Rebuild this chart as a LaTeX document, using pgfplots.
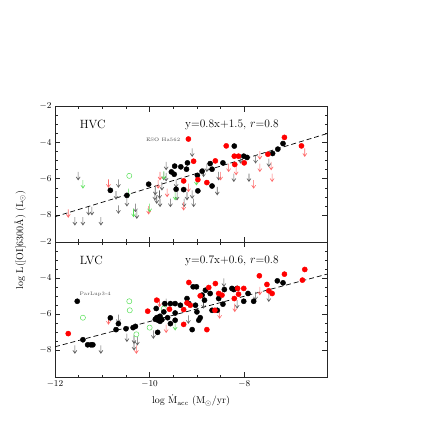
\documentclass[border=0pt]{standalone}
\usepackage{pgfplots}
\pgfplotsset{compat=1.18}
\definecolor{lgray}{RGB}{95,95,95}
\definecolor{lred}{RGB}{255,105,105}
\definecolor{lgreen}{RGB}{90,225,90}

\pgfdeclareplotmark{darr}{%
  \pgfpathmoveto{\pgfqpoint{0pt}{0pt}}%
  \pgfpathlineto{\pgfqpoint{0pt}{-8pt}}%
  \pgfpathmoveto{\pgfqpoint{-2pt}{-5pt}}%
  \pgfpathlineto{\pgfqpoint{0pt}{-8pt}}%
  \pgfpathlineto{\pgfqpoint{2pt}{-5pt}}%
  \pgfusepathqstroke}

\pgfplotsset{
  panel/.style={
    width=272bp, height=135.5bp, scale only axis,
    xmin=-12, xmax=-6.25, ymin=-9.5, ymax=-2,
    xtick={-12,-10,-8}, minor x tick num=3,
    ytick={-8,-6,-4,-2}, minor y tick num=3,
    tick align=inside, major tick length=5bp, minor tick length=2.5bp,
    axis line style={line width=0.8pt, black!85},
    tick style={black!85, line width=0.6pt},
    tick label style={font=\fontsize{9}{10}\selectfont},
  },
  blkpt/.style={only marks, mark=*, mark size=2.6pt, black},
  redpt/.style={only marks, mark=*, mark size=2.6pt, color=red, mark options={fill=red}},
  garr/.style={only marks, mark=darr, color=lgray, mark options={line width=0.6pt}},
  rarr/.style={only marks, mark=darr, color=lred, mark options={line width=0.6pt}},
  gnarr/.style={only marks, mark=darr, color=lgreen, mark options={line width=0.6pt}},
  gcirc/.style={only marks, mark=o, mark size=2.6pt, color=lgreen, mark options={line width=0.5pt}},
  fitln/.style={black, line width=0.7pt, dash pattern=on 5pt off 3pt},
}

\begin{document}
\begin{tikzpicture}
\useasboundingbox (0bp,0bp) rectangle (432bp,447bp);

% upper panel: HVC
\begin{axis}[panel, at={(55bp,205bp)}, anchor=south west, xticklabels={}]
\addplot[fitln] coordinates {(-12,-8.1) (-6.25,-3.5)};
\addplot[garr] coordinates {
 (-11.51,-5.62) (-11.58,-8.12) (-11.41,-8.12) (-11.29,-7.56) (-11.22,-7.56)
 (-11.03,-8.12) (-10.66,-6.03) (-10.71,-6.69) (-10.66,-7.47) (-10.48,-7.07)
 (-10.30,-7.38) (-10.27,-7.75) (-9.89,-6.73) (-9.85,-6.92) (-9.78,-7.10)
 (-9.79,-6.64) (-9.74,-6.18) (-9.65,-5.06) (-9.65,-5.68) (-9.56,-7.10)
 (-9.44,-6.03) (-9.27,-7.10) (-9.21,-6.73) (-9.10,-4.32) (-9.07,-7.10)
 (-9.10,-6.64) (-8.79,-5.16) (-8.57,-6.45) (-8.54,-5.62) (-8.22,-5.71)
 (-8.08,-4.69) (-7.90,-5.71) (-7.76,-4.69) (-7.48,-4.88) (-9.42,-6.73)
 (-9.88,-6.45) (-9.70,-5.62) (-8.86,-5.44)
};
\addplot[rarr] coordinates {
 (-11.72,-7.69) (-10.87,-6.03) (-10.02,-7.51) (-9.78,-5.62) (-9.63,-6.55)
 (-9.28,-7.29) (-9.18,-6.27) (-8.50,-5.62) (-8.33,-5.16) (-8.17,-5.34)
 (-7.80,-6.08) (-7.67,-4.47) (-7.67,-5.16) (-7.41,-5.71) (-7.43,-5.06)
 (-6.72,-4.32) (-9.82,-6.08)
};
\addplot[gnarr] coordinates {
 (-11.41,-6.08) (-10.45,-6.55) (-10.34,-7.66) (-10.00,-7.38) (-9.70,-5.58)
 (-9.46,-6.73) (-9.01,-5.90)
};
\addplot[gcirc] coordinates {(-10.43,-5.84)};
\addplot[blkpt] coordinates {
 (-10.83,-6.64) (-10.48,-6.92) (-10.02,-6.30) (-9.54,-5.62) (-9.48,-5.75)
 (-9.47,-5.30) (-9.34,-5.34) (-9.22,-5.47) (-9.20,-5.12) (-9.44,-6.58)
 (-9.28,-6.60) (-8.99,-5.81) (-8.98,-6.67) (-8.89,-5.58) (-8.72,-5.16)
 (-8.68,-5.47) (-8.68,-6.40) (-8.45,-5.12) (-8.21,-4.19) (-8.01,-4.75)
 (-7.94,-4.82) (-7.40,-4.60) (-7.29,-4.36) (-7.18,-4.05)
};
\addplot[redpt] coordinates {
 (-9.18,-3.80) (-8.38,-4.18) (-9.07,-5.03) (-8.61,-5.01) (-9.28,-6.12)
 (-8.98,-6.05) (-8.79,-6.21) (-8.21,-4.75) (-8.12,-4.75) (-8.20,-5.21)
 (-8.00,-5.12) (-7.50,-4.64) (-7.15,-3.71) (-6.79,-4.18)
};
\node[anchor=west, font=\fontsize{12}{12}\selectfont] at (axis cs:-11.55,-3.0) {HVC};
\node[font=\fontsize{11.5}{12}\selectfont] at (axis cs:-8.26,-3.0) {y=0.8x+1.5,\ $r$=0.8};
\node[anchor=east, font=\fontsize{5}{6}\selectfont, black!70] at (axis cs:-9.28,-3.82) {ESO Ha562};
\end{axis}

% lower panel: LVC
\begin{axis}[panel, at={(55bp,69.5bp)}, anchor=south west,
  xlabel={log $\dot{\mathrm{M}}_{\mathrm{acc}}$ (M$_\odot$/yr)},
  xlabel style={font=\fontsize{10}{12}\selectfont}]
\addplot[fitln] coordinates {(-12,-7.8) (-6.25,-3.78)};
\addplot[garr] coordinates {
 (-11.58,-7.72) (-11.03,-7.72) (-10.66,-6.02) (-10.48,-7.07) (-10.33,-7.17)
 (-10.33,-7.54) (-10.26,-7.26) (-9.92,-6.89) (-9.65,-5.13) (-9.18,-6.06)
 (-8.86,-5.22) (-8.43,-4.02) (-8.15,-5.22) (-7.76,-4.76) (-7.48,-4.85)
};
\addplot[rarr] coordinates {
 (-10.87,-6.11) (-10.28,-7.72) (-9.79,-5.13) (-9.65,-6.57) (-8.52,-5.78)
 (-8.20,-5.41) (-7.67,-4.48)
};
\addplot[gnarr] coordinates {(-9.46,-6.43)};
\addplot[gcirc] coordinates {
 (-11.41,-6.19) (-10.43,-5.28) (-10.42,-5.78) (-10.00,-6.74) (-10.28,-7.11)
 (-9.70,-5.69)
};
\addplot[blkpt] coordinates {
 (-11.53,-5.28) (-11.41,-7.41) (-11.31,-7.69) (-11.24,-7.69) (-11.20,-7.69)
 (-10.83,-6.20) (-10.71,-6.85) (-10.66,-6.52) (-10.50,-6.80) (-10.35,-6.74)
 (-10.30,-6.67) (-9.88,-6.28) (-9.82,-6.33) (-9.78,-6.39) (-9.74,-6.30)
 (-9.80,-6.15) (-9.85,-6.19) (-9.78,-6.11) (-9.86,-5.68) (-9.70,-5.87)
 (-9.68,-5.41) (-9.56,-5.41) (-9.46,-5.41) (-9.83,-7.00) (-9.56,-6.52)
 (-9.62,-6.19) (-9.46,-5.93) (-9.46,-6.33) (-9.35,-5.50) (-9.21,-5.13)
 (-9.17,-5.41) (-9.10,-6.85) (-9.08,-4.48) (-9.01,-4.48) (-9.03,-5.50)
 (-9.00,-5.87) (-8.96,-6.33) (-8.93,-6.19) (-8.89,-4.94) (-8.84,-5.22)
 (-8.82,-4.67) (-8.72,-4.85) (-8.68,-5.78) (-8.57,-5.78) (-8.54,-5.13)
 (-8.45,-5.44) (-8.42,-4.63) (-8.26,-4.57) (-8.22,-4.63) (-8.15,-4.57)
 (-8.01,-5.28) (-7.92,-4.85) (-7.80,-5.28) (-7.30,-4.15) (-7.18,-4.26)
};
\addplot[redpt] coordinates {
 (-11.72,-7.07) (-10.04,-5.83) (-9.85,-5.22) (-9.58,-5.72) (-9.28,-5.74)
 (-9.28,-6.56) (-9.21,-5.37) (-9.17,-4.24) (-9.14,-5.50) (-8.93,-4.98)
 (-8.79,-6.85) (-8.75,-4.52) (-8.61,-4.30) (-8.54,-4.85) (-8.47,-4.94)
 (-8.62,-5.78) (-8.21,-5.13) (-8.14,-4.57) (-8.12,-4.89) (-8.01,-4.57)
 (-7.68,-3.87) (-7.52,-4.35) (-7.48,-4.70) (-7.41,-4.85) (-7.15,-3.78)
 (-6.77,-4.11) (-6.72,-3.52)
};
\node[anchor=west, font=\fontsize{12}{12}\selectfont] at (axis cs:-11.55,-3.04) {LVC};
\node[font=\fontsize{11.5}{12}\selectfont] at (axis cs:-8.26,-3.04) {y=0.7x+0.6,\ $r$=0.8};
\node[font=\fontsize{5}{6}\selectfont, black!70] at (axis cs:-11.15,-4.91) {ParLup3-4};
\end{axis}

\node[rotate=90, font=\fontsize{10}{12}\selectfont] at (20bp,207bp) {log L([OI]6300\AA) (L$_\odot$)};
\end{tikzpicture}
\end{document}
